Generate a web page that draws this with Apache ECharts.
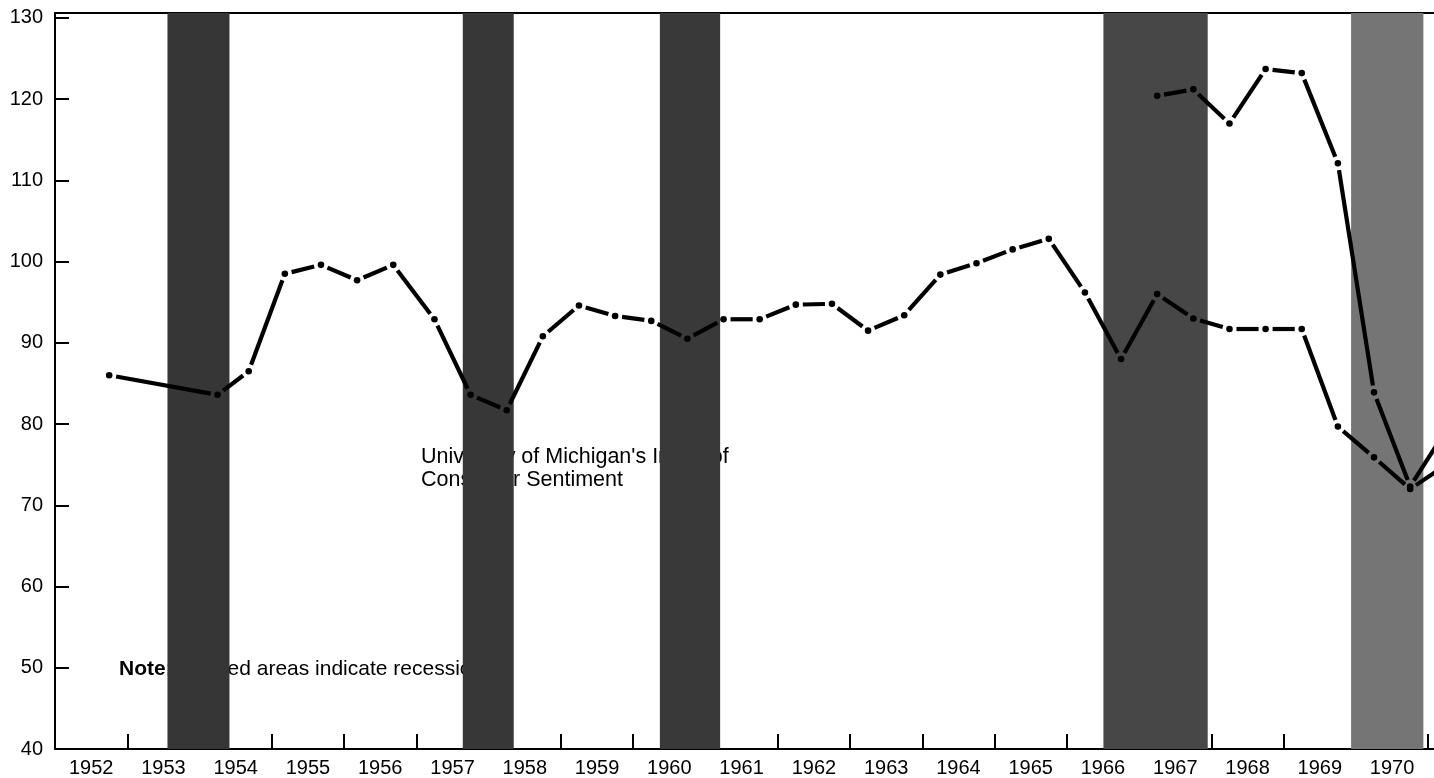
<!DOCTYPE html>
<html>
<head>
<meta charset="utf-8">
<script src="https://cdn.jsdelivr.net/npm/echarts@6/dist/echarts.min.js"></script>
<style>
  html, body { margin: 0; padding: 0; background: #ffffff; }
  #chart { width: 1434px; height: 778px; }
</style>
</head>
<body>
<div id="chart"></div>
<script>
// ---- Data ----
const yearLabels = ['1952','1953','1954','1955','1956','1957','1958','1959','1960','1961',
                    '1962','1963','1964','1965','1966','1967','1968','1969','1970'];
const yTickValues = [40, 50, 60, 70, 80, 90, 100, 110, 120, 130];

// University of Michigan's Index of Consumer Sentiment
const michiganYears = [1952.75, 1954.25, 1954.68, 1955.18, 1955.68, 1956.18, 1956.68, 1957.25, 1957.75,
  1958.25, 1958.75, 1959.25, 1959.75, 1960.25, 1960.75, 1961.25, 1961.75, 1962.25, 1962.75,
  1963.25, 1963.75, 1964.25, 1964.75, 1965.25, 1965.75, 1966.25, 1966.75, 1967.25, 1967.75,
  1968.25, 1968.75, 1969.25, 1969.75, 1970.25, 1970.75, 1971.25];
const michiganValues = [86.0, 83.6, 86.5, 98.5, 99.6, 97.7, 99.6, 92.9, 83.6,
  81.7, 90.8, 94.6, 93.3, 92.7, 90.5, 92.9, 92.9, 94.7, 94.8,
  91.5, 93.4, 98.4, 99.8, 101.5, 102.8, 96.2, 88.0, 96.0, 93.0,
  91.7, 91.7, 91.7, 79.7, 75.9, 72.0, 75.0];

// Second (upper) index, starting 1967
const upperYears = [1967.25, 1967.75, 1968.25, 1968.75, 1969.25, 1969.75, 1970.25, 1970.75, 1971.25];
const upperValues = [120.4, 121.2, 117.0, 123.7, 123.2, 112.1, 83.9, 72.3, 79.3];

// Recession periods (start, end in fractional years)
const recessionStarts = [1953.556, 1957.642, 1960.369, 1966.506, 1969.933];
const recessionEnds   = [1954.414, 1958.347, 1961.203, 1967.949, 1970.933];
const recessionColors = ['#363636', '#373737', '#393939', '#474747', '#757575'];

// ---- Chart ----
const chart = echarts.init(document.getElementById('chart'), null, { renderer: 'canvas' });
const FONT = "'Liberation Sans', Arial, Helvetica, sans-serif";

function makeRender(xs, ys) {
  return function (params, api) {
    const i = params.dataIndex;
    const p = api.coord([xs[i], ys[i]]);
    const children = [{
      type: 'circle',
      shape: { cx: p[0], cy: p[1], r: 3.3 },
      style: { fill: '#000' }
    }];
    if (i < xs.length - 1) {
      const q = api.coord([xs[i + 1], ys[i + 1]]);
      const dx = q[0] - p[0], dy = q[1] - p[1];
      const len = Math.sqrt(dx * dx + dy * dy);
      const g = 7;
      if (len > 2 * g) {
        const ux = dx / len, uy = dy / len;
        children.push({
          type: 'line',
          shape: { x1: p[0] + ux * g, y1: p[1] + uy * g, x2: q[0] - ux * g, y2: q[1] - uy * g },
          style: { stroke: '#000', lineWidth: 4.2, lineCap: 'butt' }
        });
      }
    }
    return { type: 'group', children: children };
  };
}

const xMin = 1952, xMax = 1971.08;

const option = {
  backgroundColor: '#ffffff',
  animation: false,
  grid: { left: 55, right: 0, top: 13, bottom: 29, containLabel: false },
  xAxis: [
    {
      type: 'value', min: xMin, max: xMax, position: 'bottom',
      axisLine: { show: true, onZero: false, lineStyle: { color: '#000', width: 2 } },
      axisTick: { show: true, inside: true, length: 15, lineStyle: { color: '#000', width: 2 },
                  customValues: yearLabels.map(function (y) { return +y + 1; }) },
      axisLabel: { show: true, color: '#000', fontFamily: FONT, fontSize: 20, margin: 9,
                   customValues: yearLabels.map(function (y) { return +y + 0.5; }),
                   formatter: function (v) { return String(Math.floor(v)); } },
      splitLine: { show: false }
    },
    {
      type: 'value', min: xMin, max: xMax, position: 'top',
      axisLine: { show: true, onZero: false, lineStyle: { color: '#000', width: 2 } },
      axisTick: { show: false }, axisLabel: { show: false }, splitLine: { show: false }
    }
  ],
  yAxis: {
    type: 'value', min: 40, max: 130.6,
    axisLine: { show: true, onZero: false, lineStyle: { color: '#000', width: 2 } },
    axisTick: { show: true, inside: true, length: 14, lineStyle: { color: '#000', width: 2 },
                customValues: yTickValues },
    axisLabel: { show: true, color: '#000', fontFamily: FONT, fontSize: 20, margin: 12,
                 customValues: yTickValues },
    splitLine: { show: false }
  },
  graphic: {
    elements: [
      {
        type: 'text', left: 421, top: 446, z: 0,
        style: {
          text: "University of Michigan's Index of\nConsumer Sentiment",
          font: "21.5px " + FONT, fill: '#000', lineHeight: 23
        }
      },
      {
        type: 'text', left: 119, top: 659, z: 0,
        style: {
          text: '{b|Note:} Shaded areas indicate recessions.',
          font: "21px " + FONT, fill: '#000', lineHeight: 21,
          rich: { b: { fontWeight: 'bold', fontSize: 21, fontFamily: FONT, fill: '#000' } }
        }
      }
    ]
  },
  series: [
    {
      type: 'line', name: 'recessions', data: [], z: 3, silent: true,
      markArea: {
        silent: true,
        data: recessionStarts.map(function (s, i) {
          return [{ xAxis: s, itemStyle: { color: recessionColors[i], opacity: 1 } }, { xAxis: recessionEnds[i] }];
        })
      }
    },
    {
      type: 'custom', name: 'Michigan', z: 5, clip: true,
      xAxisIndex: 0, yAxisIndex: 0,
      renderItem: makeRender(michiganYears, michiganValues),
      data: michiganYears.map(function (x, i) { return [x, michiganValues[i]]; }),
      encode: { x: 0, y: 1 }
    },
    {
      type: 'custom', name: 'Upper', z: 5, clip: true,
      xAxisIndex: 0, yAxisIndex: 0,
      renderItem: makeRender(upperYears, upperValues),
      data: upperYears.map(function (x, i) { return [x, upperValues[i]]; }),
      encode: { x: 0, y: 1 }
    }
  ]
};
chart.setOption(option);
</script>
</body>
</html>
